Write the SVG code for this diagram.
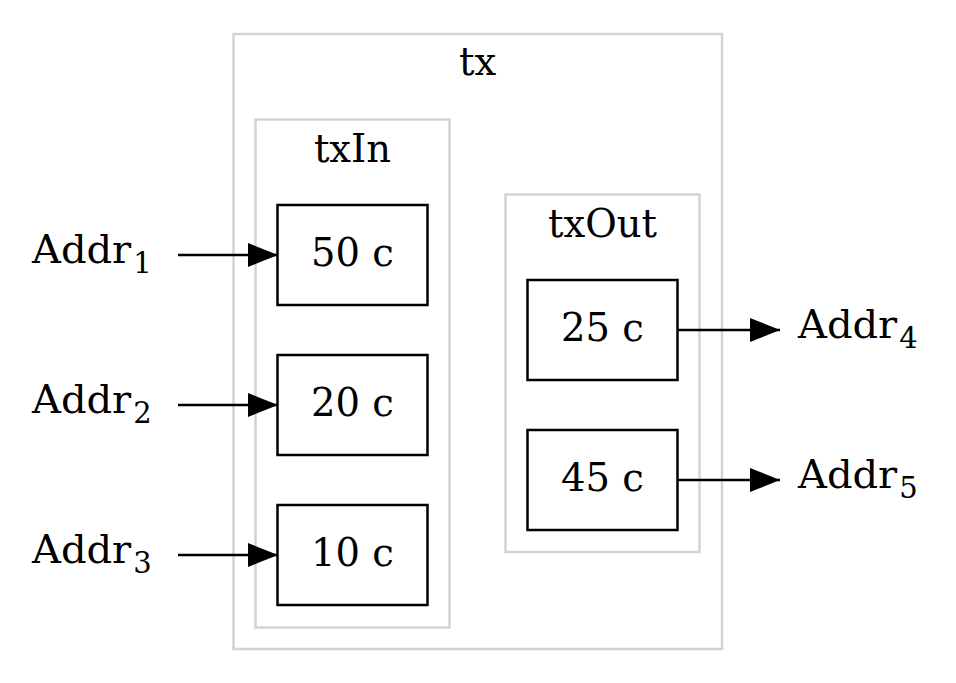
<svg xmlns="http://www.w3.org/2000/svg" width="956" height="683" viewBox="0 0 956 683">
<style>
text{font-family:"DejaVu Serif",serif;fill:#000}
.lbl{font-size:38.5px;text-anchor:middle}
.addr{font-size:40px}
.sub{font-size:29px}
.cluster{fill:none;stroke:#d3d3d3;stroke-width:2.5}
.node rect{fill:#fff;stroke:#000;stroke-width:2.5}
.edge{stroke:#000;stroke-width:2.5;fill:none}
</style>
<defs>
<marker id="arr" markerUnits="userSpaceOnUse" markerWidth="32" markerHeight="26" refX="30" refY="12" orient="auto">
<path d="M0,0 L30,12 L0,24 Z" fill="#000"/>
</marker>
</defs>
<rect width="956" height="683" fill="#fff"/>
<g id="cluster_tx">
<rect class="cluster" x="233.5" y="34" width="488.5" height="615"/>
<text class="lbl" x="477.5" y="75">tx</text>
</g>
<g id="cluster_txIn">
<rect class="cluster" x="255.5" y="119.5" width="194" height="508"/>
<text class="lbl" x="352.5" y="162">txIn</text>
</g>
<g id="cluster_txOut">
<rect class="cluster" x="505.5" y="194.5" width="194" height="357.5"/>
<text class="lbl" x="602.5" y="237">txOut</text>
</g>
<g id="n50" class="node"><rect x="277.5" y="205" width="150" height="100"/><text class="lbl" x="352.5" y="266">50 c</text></g>
<g id="n20" class="node"><rect x="277.5" y="355" width="150" height="100"/><text class="lbl" x="352.5" y="416">20 c</text></g>
<g id="n10" class="node"><rect x="277.5" y="505" width="150" height="100"/><text class="lbl" x="352.5" y="566">10 c</text></g>
<g id="n25" class="node"><rect x="527.5" y="280" width="150" height="100"/><text class="lbl" x="602.5" y="341">25 c</text></g>
<g id="n45" class="node"><rect x="527.5" y="430" width="150" height="100"/><text class="lbl" x="602.5" y="491">45 c</text></g>
<g id="addr1"><text class="addr" x="32" y="263">Addr<tspan class="sub" dx="2" dy="10">1</tspan></text></g>
<g id="addr2"><text class="addr" x="32" y="413">Addr<tspan class="sub" dx="2" dy="10">2</tspan></text></g>
<g id="addr3"><text class="addr" x="32" y="563">Addr<tspan class="sub" dx="2" dy="10">3</tspan></text></g>
<g id="addr4"><text class="addr" x="798" y="338">Addr<tspan class="sub" dx="2" dy="10">4</tspan></text></g>
<g id="addr5"><text class="addr" x="798" y="488">Addr<tspan class="sub" dx="2" dy="10">5</tspan></text></g>
<g id="edges">
<path class="edge" d="M178,255 H278" marker-end="url(#arr)"/>
<path class="edge" d="M178,405 H278" marker-end="url(#arr)"/>
<path class="edge" d="M178,555 H278" marker-end="url(#arr)"/>
<path class="edge" d="M677.5,330 H780" marker-end="url(#arr)"/>
<path class="edge" d="M677.5,480 H780" marker-end="url(#arr)"/>
</g>
</svg>
